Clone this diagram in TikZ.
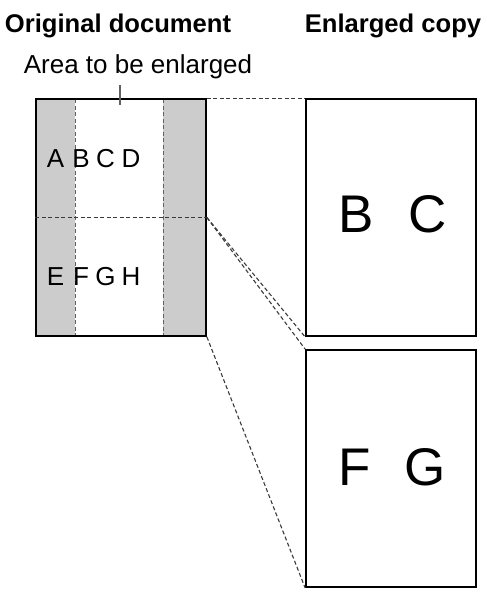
\documentclass[tikz,border=0pt]{standalone}
\usepackage{fontspec}
\setmainfont{Liberation Sans}
\usepackage{tikz}
\usepackage{xcolor}
\usetikzlibrary{positioning,calc}
\definecolor{EGray}{HTML}{CCCCCC}
\definecolor{EDash}{HTML}{3A3A3A}

\begin{document}
\begin{tikzpicture}[x=1pt,y=-1pt,
  pagebox/.style={draw,line width=1.8pt,minimum width=170pt,minimum height=237pt,inner sep=0pt},
  guide/.style={EDash,line width=1.1pt,dash pattern=on 4pt off 2.5pt},
  title/.style={font=\fontsize{25.6}{26}\selectfont\bfseries,anchor=base},
  small/.style={font=\fontsize{26}{26}\selectfont,anchor=base,inner sep=0pt},
  big/.style={font=\fontsize{53}{53}\selectfont,anchor=base,inner sep=0pt}]
  \useasboundingbox (0,0) rectangle (487,592);
  % titles
  \node[title] (orighead) at (118,32) {Original document};
  \node[title] (copyhead) at (393,32) {Enlarged copy};
  \node[font=\fontsize{26}{26}\selectfont,anchor=base] (area) at (138,73) {Area to be enlarged};
  % original with gray margins
  \fill[EGray] (36,99) rectangle (75,336);
  \fill[EGray] (163,99) rectangle (206,336);
  \draw[guide,EDash!80,line width=1pt] (75,99) -- (75,336);
  \draw[guide,EDash!80,line width=1pt] (163,99) -- (163,336);
  \node[pagebox] (orig) at (121,217.5) {};
  \draw[guide] (orig.west) -- (orig.east);
  \draw[EDash!80,line width=1.1pt] (120,85) -- (120,105);
  \foreach \x/\a/\b in {55.5/A/E,81/B/F,105.5/C/G,131/D/H} {
    \node[small] at (\x,167) {\a};
    \node[small] at (\x,285) {\b};
  }
  % enlarged pages
  \node[pagebox] (copyBC) at (391,217.5) {};
  \node[pagebox] (copyFG) at (391,468.5) {};
  \node[big] (letB) at (356,232) {B};
  \node[big] (letC) at (428,232) {C};
  \node[big] (letF) at (355,485) {F};
  \node[big] (letG) at (425,485) {G};
  % projection lines
  \draw[guide] (orig.north east) -- (copyBC.north west);
  \draw[guide] (orig.east) -- (copyBC.south west);
  \draw[guide] (orig.east) -- (copyFG.north west);
  \draw[guide] (orig.south east) -- (copyFG.south west);
\end{tikzpicture}
\end{document}
